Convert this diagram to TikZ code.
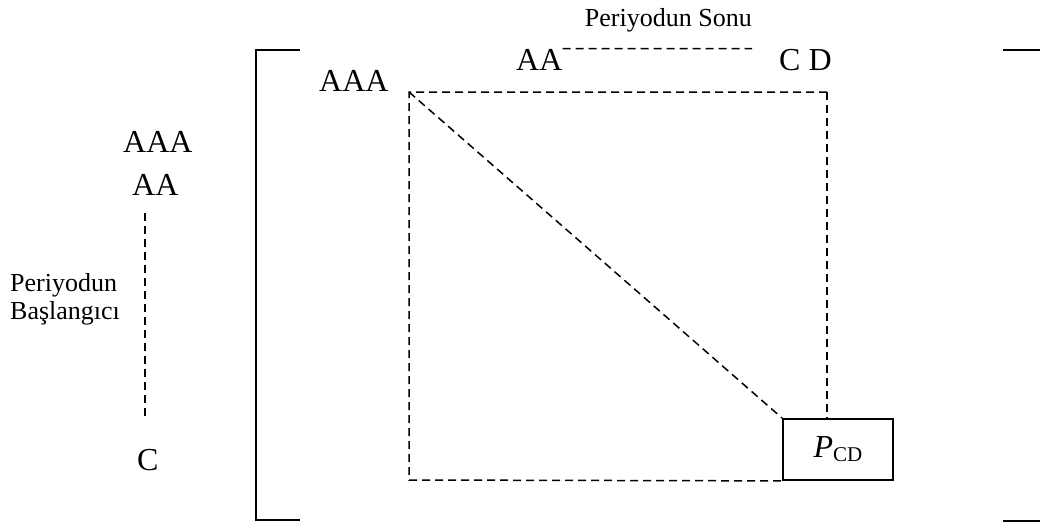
\documentclass[tikz,border=0pt]{standalone}
\usepackage{fontspec}
\setmainfont{Liberation Serif}
\begin{document}
\begin{tikzpicture}[x=1pt,y=-1pt,
  big/.style={inner sep=0pt,font=\fontsize{32}{36}\selectfont},
  lbl/.style={inner sep=0pt,font=\fontsize{26}{30}\selectfont},
  dashline/.style={line width=1.5pt,dash pattern=on 8pt off 5pt},
  solidline/.style={line width=2pt},
  pbox/.style={draw,line width=1.8pt,minimum width=110pt,minimum height=61pt,inner sep=0pt}]
\useasboundingbox (0,0) rectangle (1040,522);

% brackets
\draw[solidline] (300,50) -- (256,50) -- (256,520) -- (300,520);
\draw[solidline] (1003,50) -- (1040,50);
\draw[solidline] (1003,521) -- (1040,521);

% labels
\node[lbl,anchor=base east] (sonu) at (752,26) {Periyodun Sonu};
\node[lbl,anchor=base west] (bas1) at (10,291) {Periyodun};
\node[lbl,anchor=base west] (bas2) at (10,319) {Başlangıcı};

% top row
\node[big,anchor=base west] (aatop) at (516,70) {AA};
\node[big,anchor=base west] (cd) at (779,70) {C D};
\node[big,anchor=base west] (aaa) at (319,91) {AAA};

% left column
\node[big,anchor=base west] (aaal) at (123,152) {AAA};
\node[big,anchor=base west] (aal) at (132,195) {AA};
\node[big,anchor=base west] (cl) at (137,470) {C};

% matrix frame corners
\coordinate (tl) at (409,92);
\coordinate (tr) at (827,92);
\coordinate (bl) at (409,480);

% final cell
\node[pbox] (pcd) at (838,449.5) {{\fontsize{32}{36}\selectfont\itshape P}\raisebox{-4pt}{\fontsize{21}{24}\selectfont CD}\hspace{20pt}};

% dashed connectors
\draw[dashline] (aatop.north east) -- ([xshift=-27pt]cd.north west);
\coordinate (vtop) at (145,213);
\coordinate (vbot) at (145,417);
\draw[dashline] (vtop) -- (vbot);
\draw[dashline] (tr) -- (tl) -- (bl) -- (pcd.south west);
\draw[dashline] (tr) -- (tr |- pcd.north);
\draw[dashline] (tl) -- (pcd.north west);
\end{tikzpicture}
\end{document}
